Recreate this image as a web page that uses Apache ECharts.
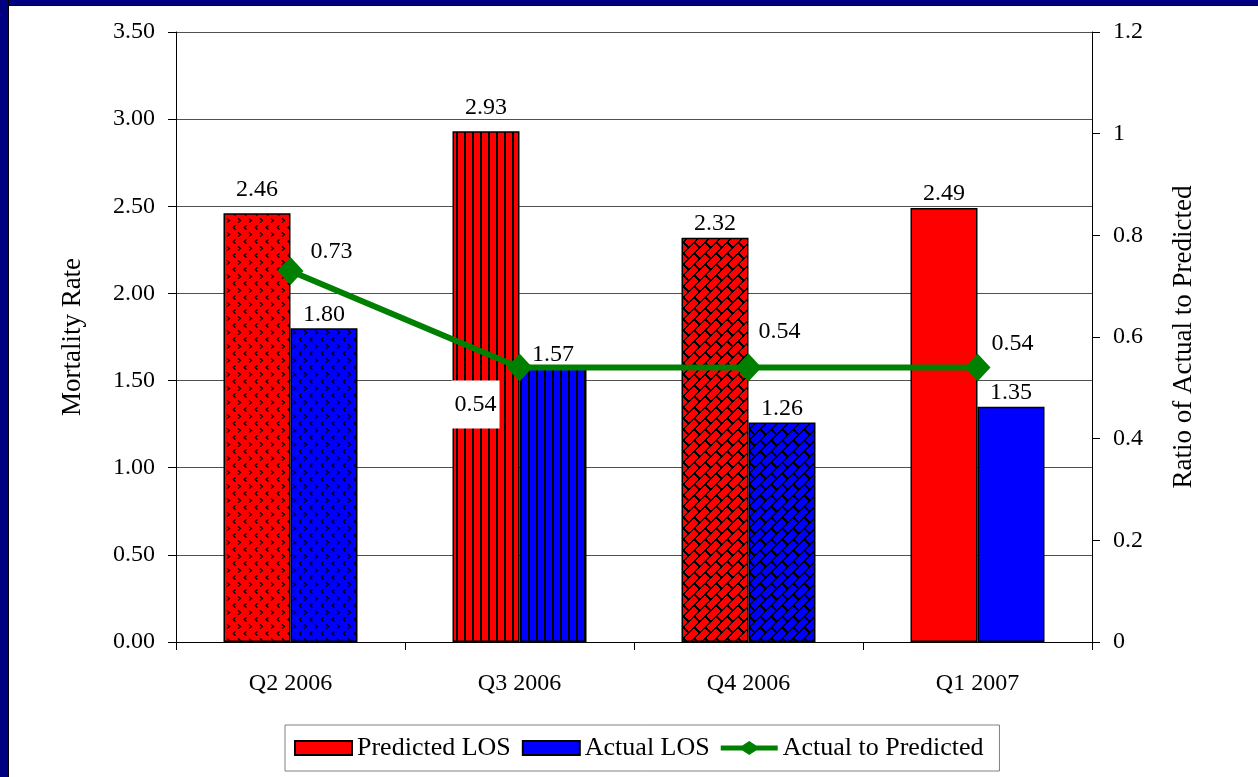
<!DOCTYPE html>
<html>
<head>
<meta charset="utf-8">
<script src="https://cdn.jsdelivr.net/npm/echarts@6/dist/echarts.min.js"></script>
<style>
  html, body { margin: 0; padding: 0; background: #ffffff; }
  #wrap { position: relative; width: 1258px; height: 777px; overflow: hidden; background: #ffffff; }
  #frameLeft { position: absolute; left: 0; top: 0; width: 8px; height: 777px; background: #000080; border-right: 1px solid #000000; }
  #frameTop { position: absolute; left: 0; top: 0; width: 1258px; height: 5px; background: #000080; border-bottom: 1px solid #000000; }
  #chart { position: absolute; left: 0; top: 0; width: 1258px; height: 777px; }
</style>
</head>
<body>
<div id="wrap">
  <div id="chart"></div>
  <div id="frameTop"></div>
  <div id="frameLeft"></div>
</div>
<script>
// Quarterly mortality: predicted vs actual, plus their ratio
const categories = ['Q2 2006', 'Q3 2006', 'Q4 2006', 'Q1 2007'];
const predictedLOS = [2.46, 2.93, 2.32, 2.49];
const actualLOS = [1.80, 1.57, 1.26, 1.35];
const actualToPredicted = [0.73, 0.54, 0.54, 0.54];

const leftAxis = { min: 0, max: 3.5, interval: 0.5 };
const rightAxis = { min: 0, max: 1.2, interval: 0.2 };

const FONT = '"Liberation Serif", "Times New Roman", serif';
const RED = '#ff0000';
const BLUE = '#0000ff';
const GREEN = '#008000';

// ---- fill patterns, one per quarter ----
function makeTile(w, h, draw) {
  const c = document.createElement('canvas');
  c.width = w; c.height = h;
  draw(c.getContext('2d'), w, h);
  return c;
}

// small alternating chevrons
function chevronTile(col) {
  return makeTile(11, 14, function (ctx, w, h) {
    ctx.fillStyle = col; ctx.fillRect(0, 0, w, h);
    ctx.strokeStyle = '#000'; ctx.lineWidth = 1.2;
    ctx.beginPath();
    ctx.moveTo(4.5, 1.5); ctx.lineTo(2, 3.5); ctx.lineTo(4.5, 5.5);
    ctx.moveTo(7, 8.5); ctx.lineTo(9.5, 10.5); ctx.lineTo(7, 12.5);
    ctx.stroke();
  });
}

// narrow vertical stripes
function stripeTile(col) {
  return makeTile(8, 4, function (ctx, w, h) {
    ctx.fillStyle = col; ctx.fillRect(0, 0, w, h);
    ctx.fillStyle = '#000'; ctx.fillRect(0, 0, 2, h);
  });
}

// diagonal brick weave
function brickTile(col) {
  const T = 22, a = 11, b = 22, lw = 2.4;
  return makeTile(T, T, function (ctx) {
    ctx.fillStyle = col; ctx.fillRect(0, 0, T, T);
    const img = ctx.getImageData(0, 0, T, T);
    for (let y = 0; y < T; y++) {
      for (let x = 0; x < T; x++) {
        const u = x + y + 0.5, v = x - y + 4 * T;
        const r = Math.floor(u / a);
        const off = (r % 2) ? b / 2 : 0;
        const mortar = (u % a) < lw || ((v + off) % b) < lw;
        if (mortar) {
          const i = (y * T + x) * 4;
          img.data[i] = 0; img.data[i + 1] = 0; img.data[i + 2] = 0; img.data[i + 3] = 255;
        }
      }
    }
    ctx.putImageData(img, 0, 0);
  });
}

const quarterFill = ['chevron', 'stripes', 'bricks', 'solid'];
function fillFor(kind, col) {
  if (kind === 'chevron') return { image: chevronTile(col), repeat: 'repeat' };
  if (kind === 'stripes') return { image: stripeTile(col), repeat: 'repeat' };
  if (kind === 'bricks') return { image: brickTile(col), repeat: 'repeat' };
  return col;
}

// gap between each bar top and its value label
const predictedLabelGap = [12, 12, 2, 2];
const actualLabelGap = [2, 2, 2, 2];

function barData(values, col, gaps) {
  return values.map(function (v, i) {
    return {
      value: v,
      itemStyle: { color: fillFor(quarterFill[i], col) },
      label: { distance: gaps[i] }
    };
  });
}

// ratio labels: placement around each marker
const ratioLabelOffsets = [[41, -19], [-44, 37], [31, -36], [35, -24]];
const ratioLabelBoxed = [false, true, false, false];
const ratioData = actualToPredicted.map(function (v, i) {
  const lab = { offset: ratioLabelOffsets[i] };
  if (ratioLabelBoxed[i]) { lab.backgroundColor = '#ffffff'; lab.padding = [12, 3]; }
  return { value: v, label: lab };
});

const chart = echarts.init(document.getElementById('chart'), null, { renderer: 'canvas' });

const barLabel = {
  show: true, position: 'top', distance: 2,
  color: '#000', fontFamily: FONT, fontSize: 24,
  formatter: function (p) { return p.value.toFixed(2); }
};

// thick line with a diamond, for the ratio legend entry
const lineDiamondIcon = 'path://M0,4.5 L22,4.5 L29,0 L36,4.5 L58,4.5 L58,9.5 L36,9.5 L29,14 L22,9.5 L0,9.5 Z';

chart.setOption({
  animation: false,
  backgroundColor: 'transparent',
  textStyle: { fontFamily: FONT, color: '#000' },
  grid: { left: 176, right: 166, top: 32, bottom: 135 },
  legend: {
    left: 285, top: 725,
    padding: [10, 16, 10, 9],
    borderColor: '#808080', borderWidth: 1,
    itemWidth: 57, itemHeight: 14, itemGap: 11,
    textStyle: { fontFamily: FONT, fontSize: 26, color: '#000' },
    data: [
      { name: 'Predicted LOS', icon: 'rect' },
      { name: 'Actual LOS', icon: 'rect' },
      { name: 'Actual to Predicted', icon: lineDiamondIcon, itemStyle: { color: GREEN, borderWidth: 0 } }
    ]
  },
  xAxis: {
    type: 'category',
    data: categories,
    boundaryGap: true,
    axisLine: { lineStyle: { color: '#000', width: 1 } },
    axisTick: { show: true, length: 8, lineStyle: { color: '#000' } },
    axisLabel: { color: '#000', fontFamily: FONT, fontSize: 24, margin: 30 },
    splitLine: { show: false }
  },
  yAxis: [
    {
      type: 'value', position: 'left',
      min: leftAxis.min, max: leftAxis.max, interval: leftAxis.interval,
      name: 'Mortality Rate', nameLocation: 'middle', nameGap: 90,
      nameTextStyle: { fontFamily: FONT, fontSize: 27, color: '#000' },
      axisLine: { show: true, lineStyle: { color: '#000', width: 1 } },
      axisTick: { show: true, length: 8, lineStyle: { color: '#000' } },
      axisLabel: { color: '#000', fontFamily: FONT, fontSize: 24, margin: 21,
        formatter: function (v) { return v.toFixed(2); } },
      splitLine: { show: true, lineStyle: { color: '#505050', width: 1 } }
    },
    {
      type: 'value', position: 'right',
      min: rightAxis.min, max: rightAxis.max, interval: rightAxis.interval,
      name: 'Ratio of Actual to Predicted', nameLocation: 'middle', nameGap: 78,
      nameTextStyle: { fontFamily: FONT, fontSize: 27, color: '#000' },
      axisLine: { show: true, lineStyle: { color: '#000', width: 1 } },
      axisTick: { show: true, length: 8, lineStyle: { color: '#000' } },
      axisLabel: { color: '#000', fontFamily: FONT, fontSize: 24, margin: 21,
        formatter: function (v) { return String(Math.round(v * 10) / 10); } },
      splitLine: { show: false }
    }
  ],
  series: [
    {
      name: 'Predicted LOS', type: 'bar', yAxisIndex: 0,
      barWidth: 67, barGap: '0%',
      itemStyle: { color: RED, borderColor: '#000', borderWidth: 1.5 },
      label: barLabel,
      emphasis: { disabled: true },
      data: barData(predictedLOS, RED, predictedLabelGap)
    },
    {
      name: 'Actual LOS', type: 'bar', yAxisIndex: 0,
      barWidth: 67, barGap: '0%',
      itemStyle: { color: BLUE, borderColor: '#000', borderWidth: 1.5 },
      label: barLabel,
      emphasis: { disabled: true },
      data: barData(actualLOS, BLUE, actualLabelGap)
    },
    {
      name: 'Actual to Predicted', type: 'line', yAxisIndex: 1,
      symbol: 'diamond', symbolSize: [26, 28],
      lineStyle: { color: GREEN, width: 6 },
      itemStyle: { color: GREEN },
      label: {
        show: true, position: 'inside',
        color: '#000', fontFamily: FONT, fontSize: 24,
        formatter: function (p) { return p.value.toFixed(2); }
      },
      emphasis: { disabled: true },
      z: 5,
      data: ratioData
    }
  ]
});
</script>
</body>
</html>
